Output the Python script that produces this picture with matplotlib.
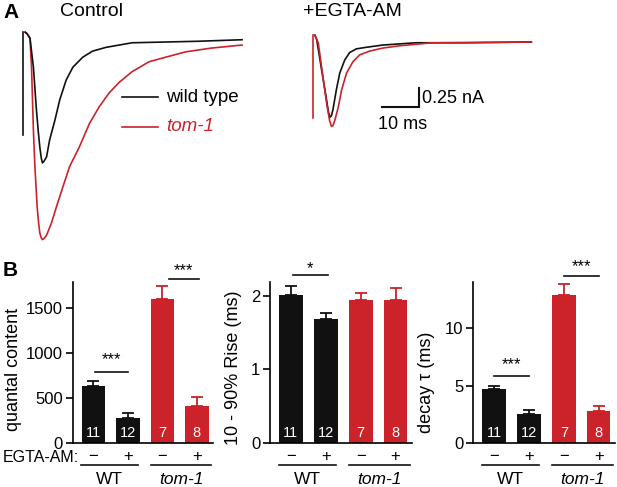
import numpy as np
import matplotlib
matplotlib.use("Agg")
import matplotlib.pyplot as plt

plt.rcParams['font.family'] = ['Liberation Sans', 'DejaVu Sans']

W, H = 617, 487
BLACK = '#111111'
RED = '#cc2229'

# ---- panel A traces (time in ms, current in nA) ----
ctl_wt_t = [0.3, 0.8, 1.6, 2.5, 3.3, 3.8, 4.2, 4.6, 4.9, 5.3, 6.0, 6.8, 8.2,
            9.5, 11.2, 13.0, 15.6, 18.2, 21.8, 28.7, 37.6, 46.3, 57.9]
ctl_wt_i = [0.09, 0.07, 0.01, -0.37, -0.93, -1.22, -1.42, -1.57, -1.63, -1.61,
            -1.55, -1.33, -1.07, -0.80, -0.54, -0.37, -0.24, -0.16, -0.11,
            -0.05, -0.04, -0.03, -0.01]
ctl_tom_t = [0.3, 0.8, 1.6, 2.0, 2.5, 2.9, 3.5, 3.9, 4.2, 4.6, 4.9, 5.4, 6.0,
             7.3, 8.6, 10.3, 12.1, 14.7, 17.4, 20.0, 22.6, 25.3, 28.7, 33.2,
             37.6, 42.9, 49.7, 57.9]
ctl_tom_i = [0.09, 0.07, 0.01, -0.37, -1.20, -1.68, -2.21, -2.43, -2.55, -2.62,
             -2.64, -2.62, -2.58, -2.42, -2.21, -1.95, -1.68, -1.42, -1.11,
             -0.89, -0.71, -0.57, -0.43, -0.30, -0.24, -0.17, -0.12, -0.08]
egta_wt_t = [0.5, 1.0, 2.3, 3.6, 4.1, 4.5, 4.9, 5.3, 6.2, 7.1, 8.4, 9.7, 11.5,
             14.1, 18.5, 27.3, 40.4, 58.0]
egta_wt_i = [0.09, 0.03, -0.37, -0.76, -0.92, -0.99, -0.97, -0.89, -0.63,
             -0.41, -0.24, -0.14, -0.09, -0.07, -0.04, -0.01, -0.01, 0.0]
egta_tom_t = [0.5, 1.4, 2.4, 3.7, 4.4, 4.9, 5.3, 5.8, 6.7, 7.6, 8.9, 10.6,
              12.4, 15.0, 18.5, 22.9, 31.6, 57.9]
egta_tom_i = [0.09, -0.01, -0.37, -0.83, -1.03, -1.11, -1.10, -1.03, -0.86,
              -0.63, -0.41, -0.26, -0.17, -0.12, -0.08, -0.05, -0.01, 0.0]
ctl_artifact = [0.09, -1.26]
egta_artifact = [0.09, -1.0]

# ---- panel B bar data ----
conds = ['WT -', 'WT +', 'tom-1 -', 'tom-1 +']
n_cells = ['11', '12', '7', '8']
quantal = [633, 274, 1600, 415]
quantal_err = [55, 63, 144, 100]
rise = [2.01, 1.68, 1.95, 1.95]
rise_err = [0.13, 0.09, 0.09, 0.16]
decay = [4.67, 2.52, 12.87, 2.78]
decay_err = [0.31, 0.35, 0.93, 0.44]
bar_colors = [BLACK, BLACK, RED, RED]

fig = plt.figure(figsize=(W / 100, H / 100), dpi=100)


def px_axes(x0, y0, x1, y1):
    return fig.add_axes([x0 / W, 1 - y1 / H, (x1 - x0) / W, (y1 - y0) / H])


# ---------------- Panel A ----------------
axc = px_axes(22.1, 30, 248.1, 245)
axc.plot([-0.2, -0.2], ctl_artifact, color=BLACK, lw=1.2)
axc.plot(ctl_tom_t, ctl_tom_i, color=RED, lw=1.2)
axc.plot(ctl_wt_t, ctl_wt_i, color=BLACK, lw=1.2)
axc.set_xlim(-0.5, 59.5)
axc.set_ylim(-2.71, 0.118)
axc.axis('off')

axe = px_axes(311.1, 30, 537.1, 245)
axe.plot(egta_wt_t, egta_wt_i, color=BLACK, lw=1.2)
axe.plot(egta_tom_t, egta_tom_i, color=RED, lw=1.2)
axe.plot([0.0, 0.0], egta_artifact, color=RED, lw=1.2)
axe.set_xlim(-0.5, 59.5)
axe.set_ylim(-2.67, 0.158)
axe.axis('off')
# scale bar 10 ms / 0.25 nA
axe.plot([18.2, 28.2, 28.2], [-0.855, -0.855, -0.605], color=BLACK, lw=1.5,
         solid_joinstyle='miter')
axe.text(29.0, -0.74, '0.25 nA', fontsize=13, va='center', ha='left')
axe.text(23.9, -1.08, '10 ms', fontsize=13, va='center', ha='center')

fig.text(3 / W, 1 - 13 / H, 'A', fontsize=15, fontweight='bold', va='center')
fig.text(60 / W, 1 - 12 / H, 'Control', fontsize=14, va='center')
fig.text(303 / W, 1 - 12 / H, '+EGTA-AM', fontsize=14, va='center')

# legend
fig.lines.append(plt.Line2D([122 / W, 158 / W], [1 - 97 / H, 1 - 97 / H],
                            color=BLACK, lw=1.2, transform=fig.transFigure))
fig.lines.append(plt.Line2D([122 / W, 158 / W], [1 - 127 / H, 1 - 127 / H],
                            color=RED, lw=1.2, transform=fig.transFigure))
fig.text(166 / W, 1 - 97 / H, 'wild type', fontsize=13.5, va='center')
fig.text(166 / W, 1 - 127 / H, 'tom-1', fontsize=13.5, va='center',
         color=RED, style='italic')

# ---------------- Panel B ----------------
xpos = np.arange(4)


def bar_panel(box, vals, errs, ylim, yticks, ylabel, sigs, labx, laby):
    ax = px_axes(*box)
    ax.bar(xpos, vals, width=0.68, color=bar_colors, zorder=2)
    for i in range(4):
        ax.errorbar(xpos[i], vals[i], yerr=[[0], [errs[i]]], color=bar_colors[i],
                    capsize=4, elinewidth=1.3, capthick=1.3, zorder=1)
        ax.text(xpos[i], 0.062, n_cells[i], transform=ax.get_xaxis_transform(),
                color='white', fontsize=10.5, ha='center', va='center')
    ax.set_xlim(-0.6, 3.47)
    ax.set_ylim(*ylim)
    ax.set_yticks(yticks)
    ax.set_xticks([])
    for s in ['top', 'right']:
        ax.spines[s].set_visible(False)
    for s in ['left', 'bottom']:
        ax.spines[s].set_linewidth(1.2)
    ax.tick_params(axis='y', labelsize=12, length=5, width=1.2, pad=2)
    ax.set_ylabel(ylabel, fontsize=13, labelpad=2)
    ax.yaxis.set_label_coords(labx, laby)
    for (a, b, yl, ys, txt) in sigs:
        ax.plot([a, b], [yl, yl], color=BLACK, lw=1.2, clip_on=False)
        ax.text((a + b) / 2, ys, txt, ha='center', va='center', fontsize=12)
    # condition signs and group labels below axis
    hpx = box[3] - box[1]
    tr = ax.get_xaxis_transform()
    for i, sgn in enumerate(['\u2212', '+', '\u2212', '+']):
        ax.text(xpos[i], -14 / hpx, sgn, transform=tr, ha='center', va='center',
                fontsize=12)
    for (a, b, lab, sty) in [(-0.35, 1.3, 'WT', 'normal'),
                             (1.67, 3.42, 'tom-1', 'italic')]:
        ax.plot([a, b], [-22 / hpx, -22 / hpx], transform=tr, color=BLACK,
                lw=1.2, clip_on=False)
        ax.text((a + b) / 2, -37 / hpx, lab, transform=tr, ha='center',
                va='center', fontsize=12.5, style=sty)
    return ax


ax1 = bar_panel((72.7, 282, 213, 443), quantal, quantal_err, (0, 1790),
                [0, 500, 1000, 1500], 'quantal content',
                [(0.05, 1.0, 792, 922, '***'), (2.2, 3.05, 1822, 1922, '***')],
                -0.36, 0.46)
ax2 = bar_panel((270, 282, 412, 443), rise, rise_err, (0, 2.19),
                [0, 1, 2], '10 - 90% Rise (ms)',
                [(0.05, 1.05, 2.28, 2.37, '*')], -0.2, 0.47)
ax3 = bar_panel((473.3, 282, 615, 443), decay, decay_err, (0, 14.0),
                [0, 5, 10], 'decay \u03c4 (ms)',
                [(0.0, 1.0, 5.85, 6.78, '***'), (2.0, 3.0, 14.5, 15.3, '***')],
                -0.27, 0.38)

fig.text(3 / W, 1 - 270 / H, 'B', fontsize=15, fontweight='bold', va='center')
fig.text(3 / W, 1 - 457 / H, 'EGTA-AM:', fontsize=11.5, va='center')

fig.savefig('out.png', dpi=100)
